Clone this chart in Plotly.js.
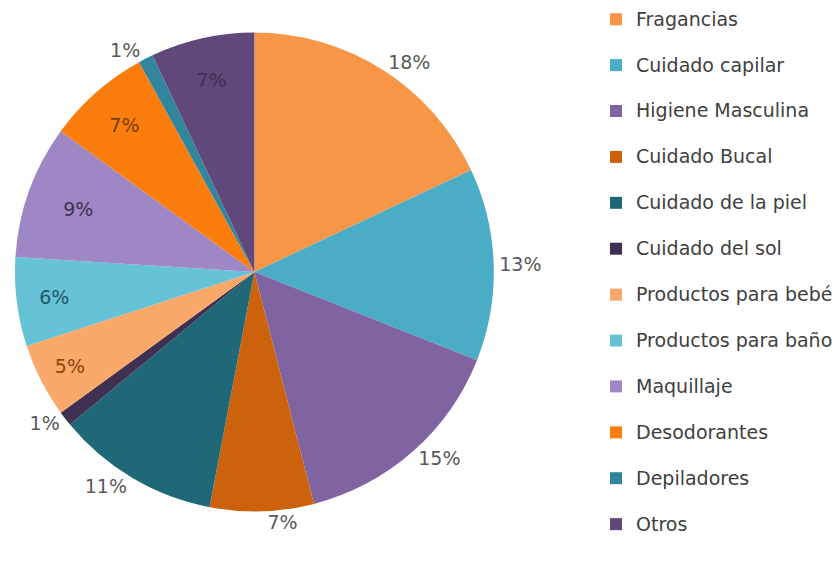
<!DOCTYPE html>
<html>
<head>
<meta charset="utf-8">
<script src="https://cdn.plot.ly/plotly-3.0.1.min.js"></script>
<style>
  html, body { margin: 0; padding: 0; background: #ffffff; }
  #chart { width: 838px; height: 571px; }
</style>
</head>
<body>
<div id="chart"></div>
<script>
// ---- data ----
const categories = [
  "Fragancias", "Cuidado capilar", "Higiene Masculina", "Cuidado Bucal",
  "Cuidado de la piel", "Cuidado del sol", "Productos para bebé",
  "Productos para baño", "Maquillaje", "Desodorantes", "Depiladores", "Otros"
];
const shares = [18, 13, 15, 7, 11, 1, 5, 6, 9, 7, 1, 7];
const sliceColors = [
  "#F79646", "#4BACC6", "#8064A2", "#CC620C", "#1F6878", "#403152",
  "#FAA96A", "#66C2D6", "#9E87C4", "#FA7D0D", "#31869E", "#60497A"
];
const labelPlacement = [
  "outside", "outside", "outside", "outside", "outside", "outside",
  "inside", "inside", "inside", "inside", "outside", "inside"
];
const labelColors = [
  "#595959", "#595959", "#595959", "#595959", "#595959", "#595959",
  "#8A4608", "#215968", "#3F3151", "#7A3E06", "#595959", "#3F3151"
];

const FONT = "DejaVu Sans, Liberation Sans, Arial, sans-serif";

// larger first line + empty second line reproduce the roomy legend rows
const legendLabels = categories.map(c =>
  "<span style='font-size:19px'>" + c + "</span><br>&nbsp;");

const trace = {
  type: "pie",
  labels: legendLabels,
  values: shares,
  sort: false,
  direction: "clockwise",
  rotation: 0,
  marker: { colors: sliceColors, line: { width: 0 } },
  texttemplate: "%{value}%",
  textposition: labelPlacement,
  insidetextorientation: "horizontal",
  textfont: { family: FONT, size: 19, color: labelColors },
  hovertemplate: "%{value}%<extra></extra>",
  domain: { x: [15/838, 495/838], y: [1 - 512/571, 1 - 32/571] }
};

const layout = {
  width: 838,
  height: 571,
  margin: { l: 0, r: 0, t: 0, b: 0 },
  paper_bgcolor: "#ffffff",
  showlegend: true,
  legend: {
    x: 0.713, xanchor: "left",
    y: 1 - 2/571, yanchor: "top",
    valign: "top",
    maxheight: 1,
    font: { family: FONT, size: 16.5, color: "#404040" },
    bgcolor: "rgba(0,0,0,0)",
    traceorder: "normal"
  },
  font: { family: FONT }
};

Plotly.newPlot("chart", [trace], layout, { displayModeBar: false, staticPlot: true });
</script>
</body>
</html>
